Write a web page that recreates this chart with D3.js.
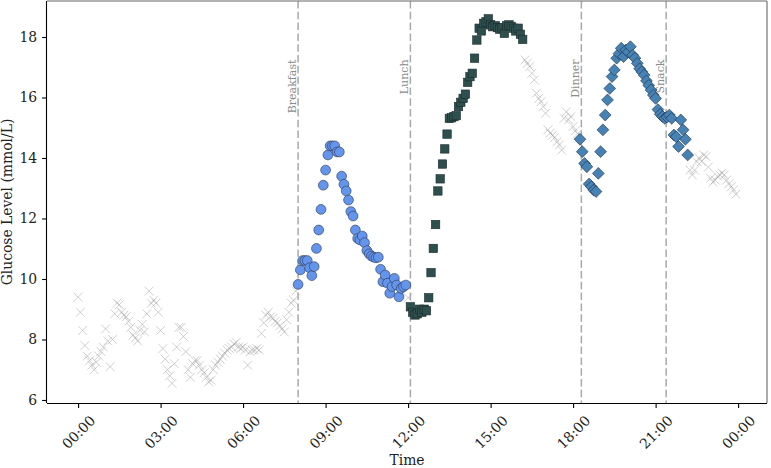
<!DOCTYPE html>
<html><head><meta charset="utf-8">
<script src="https://cdn.jsdelivr.net/npm/d3@7"></script>
<style>
body{margin:0;background:#fff}
svg{display:block}
text{font-family:"DejaVu Serif",serif}
</style>
</head><body>
<svg id="chart" width="771" height="468"></svg>
<script>
// ---------- data ----------
const tickHours = [0, 3, 6, 9, 12, 15, 18, 21, 24];
const tickLabels = ["00:00", "03:00", "06:00", "09:00", "12:00", "15:00", "18:00", "21:00", "00:00"];
const yTickValues = [6, 8, 10, 12, 14, 16, 18];

const mealNames = ["Breakfast", "Lunch", "Dinner", "Snack"];
const mealTimes = ["08:00", "12:05", "18:18", "21:23"];

const readingIntervalMin = 5;

// between-meal readings (grey crosses)
const overnightStart = "00:00";
const overnight = [
  9.4, 8.9, 8.3, 7.8, 7.45, 7.3, 7.15, 7.0, 7.25, 7.45, 7.6, 7.75,
  8.35, 7.95, 7.1, 8.0, 8.85, 9.2, 9.15, 8.9, 8.8, 8.75, 8.6, 8.4,
  8.15, 8.05, 7.95, 8.3, 8.5, 8.25, 8.85, 9.6, 9.2, 9.3, 9.2, 8.9,
  8.3, 7.7, 7.35, 7.0, 6.8, 6.55, 7.2, 7.75, 8.4, 8.4, 8.1, 7.6,
  7.0, 6.75, 7.2, 7.3, 7.3, 7.15, 7.0, 6.9, 6.75, 6.6, 6.65, 7.0,
  7.15, 7.25, 7.35, 7.45, 7.55, 7.65, 7.7, 7.75, 7.85, 7.9, 7.75, 7.7,
  7.75, 7.65, 7.15, 7.6, 7.65, 7.65, 7.7, 7.65, 8.2, 8.55, 8.8, 8.9,
  8.75, 8.7, 8.6, 8.55, 8.45, 8.35, 8.25, 8.65, 8.9, 9.2, 9.3, 9.6
];
const noonStart = "12:00";
const noon = [9.38];
const afternoonStart = "16:15";
const afternoon = [
  17.24, 17.13, 17.02, 16.8, 16.58, 16.14, 15.97, 15.86, 15.70, 15.48, 14.93, 14.82,
  14.75, 14.68, 14.54, 14.43, 14.26, 15.31, 15.53, 15.26, 15.37, 15.04, 14.9, 14.8
];
const lateStart = "22:15";
const late = [
  13.6, 13.44, 13.6, 13.88, 14.0, 13.88, 14.1, 14.05, 13.7, 13.33, 13.2,
  13.27, 13.4, 13.44, 13.5, 13.44, 13.27, 13.15, 13.05, 12.94, 12.8
];

// post-meal readings
const breakfastStart = "08:00";
const breakfast = [
  9.82, 10.30, 10.61, 10.61, 10.61, 10.37, 10.11, 10.41, 11.01, 11.62,
  12.30, 13.10, 13.60, 14.10, 14.40, 14.40, 14.40, 14.20, 14.20, 13.40,
  13.13, 12.91, 12.61, 12.23, 12.08, 11.62, 11.34, 11.29, 11.42, 11.20,
  10.94, 10.83, 10.76, 10.72, 10.70, 10.72, 10.32, 9.91, 10.13, 9.86,
  9.53, 9.75, 10.02, 9.80, 9.41, 9.69, 9.75, 9.80
];
const lunchStart = "12:05";
const lunch = [
  9.08, 8.9, 8.81, 8.85, 9.0, 8.9, 9.0, 8.95, 9.38, 10.21,
  11.01, 11.8, 12.91, 13.31, 13.8, 14.3, 14.79, 15.31, 15.33, 15.37,
  15.40, 15.70, 15.84, 15.97, 16.11, 16.5, 16.69, 16.8, 17.3, 17.9,
  18.29, 18.2, 18.45, 18.5, 18.6, 18.4, 18.34, 18.37, 18.31, 18.26,
  18.3, 18.12, 18.37, 18.4, 18.35, 18.29, 18.2, 18.29, 18.09, 17.92
];
const dinnerStart = "18:15";
const dinner = [
  14.62, 14.21, 13.82, 13.71, 13.14, 13.05, 12.94, 12.89, 13.49, 14.21,
  14.93, 15.42, 15.92, 16.30, 16.69, 16.91, 17.3, 17.45, 17.63, 17.35,
  17.57, 17.5, 17.68, 17.4, 17.3, 17.13, 16.95, 16.85, 16.74, 16.55,
  16.4, 16.25, 16.08, 15.97, 15.6, 15.45, 15.37, 15.31, 15.35, 15.42,
  15.31, 14.76, 14.7, 14.38, 15.26, 14.93, 14.62, 14.1
];

// ---------- helpers ----------
const toHours = s => { const [h, m] = s.split(":").map(Number); return h + m / 60; };
const series = (start, values) => values.map((v, i) => ({ t: toHours(start) + i * readingIntervalMin / 60, v }));

const greyPts = [].concat(series(overnightStart, overnight), series(noonStart, noon),
                          series(afternoonStart, afternoon), series(lateStart, late));
const bPts = series(breakfastStart, breakfast);
const lPts = series(lunchStart, lunch);
const dPts = series(dinnerStart, dinner);

// ---------- layout ----------
const svg = d3.select("#chart");
const L = 47, R = 767, T = 1, B = 403;
const x = d3.scaleLinear().domain([-1.13, 25.05]).range([L, R]);
const y = d3.scaleLinear().domain([5.9, 19.19]).range([B, T]);
const FS = 13.9;

// meal lines
const mg = svg.append("g");
mealTimes.forEach((mt, i) => {
  const xx = x(toHours(mt));
  mg.append("line").attr("x1", xx).attr("x2", xx).attr("y1", T).attr("y2", B)
    .attr("stroke", "#a9a9a9").attr("stroke-width", 1.5).attr("stroke-dasharray", "7.5,3.3");
  mg.append("text").attr("transform", `translate(${xx - 2},59.5) rotate(-90)`)
    .attr("text-anchor", "end").attr("font-size", 11).attr("fill", "#8c8c8c")
    .text(mealNames[i]);
});

// grey crosses
const cr = 4.4;
svg.append("g").selectAll("path").data(greyPts).join("path")
  .attr("d", d => `M${x(d.t) - cr},${y(d.v) - cr}L${x(d.t) + cr},${y(d.v) + cr}M${x(d.t) - cr},${y(d.v) + cr}L${x(d.t) + cr},${y(d.v) - cr}`)
  .attr("stroke", "#a0a0a0").attr("stroke-opacity", 0.5).attr("stroke-width", 1).attr("fill", "none");

// breakfast circles
svg.append("g").selectAll("circle").data(bPts).join("circle")
  .attr("cx", d => x(d.t)).attr("cy", d => y(d.v)).attr("r", 4.9)
  .attr("fill", "#6495ED").attr("stroke", "#2b3550").attr("stroke-width", 0.6);

// lunch squares
const sq = 8.4;
svg.append("g").selectAll("rect").data(lPts).join("rect")
  .attr("x", d => x(d.t) - sq / 2).attr("y", d => y(d.v) - sq / 2).attr("width", sq).attr("height", sq)
  .attr("fill", "#2F4F4F").attr("stroke", "#1a2a2a").attr("stroke-width", 0.6);

// dinner / snack diamonds
const dr = 5.9;
svg.append("g").selectAll("path").data(dPts).join("path")
  .attr("d", d => `M${x(d.t)},${y(d.v) - dr}L${x(d.t) + dr},${y(d.v)}L${x(d.t)},${y(d.v) + dr}L${x(d.t) - dr},${y(d.v)}Z`)
  .attr("fill", "#4682B4").attr("stroke", "#1c2f44").attr("stroke-width", 0.6);

// frame
svg.append("line").attr("x1", L).attr("x2", R).attr("y1", T).attr("y2", T).attr("stroke", "#666").attr("stroke-width", 1.1);
svg.append("line").attr("x1", R).attr("x2", R).attr("y1", T).attr("y2", B).attr("stroke", "#666").attr("stroke-width", 1.1);

// axes
const xAxis = d3.axisBottom(x).tickValues(tickHours).tickFormat((d, i) => tickLabels[i]).tickSize(4.9).tickSizeOuter(0);
const gx = svg.append("g").attr("transform", `translate(0,${B})`).call(xAxis);
gx.select(".domain").attr("stroke", "#000").attr("stroke-width", 1.1).attr("d", `M${L},0.5H${R}`);
gx.selectAll(".tick line").attr("stroke", "#000").attr("stroke-width", 1.1);
gx.selectAll(".tick text").attr("font-size", FS).attr("fill", "#222")
  .attr("font-family", "DejaVu Serif").attr("text-anchor", "middle").attr("dy", null).attr("y", 29)
  .attr("dominant-baseline", "central").attr("transform", "rotate(-45,0,29)");

const yAxis = d3.axisLeft(y).tickValues(yTickValues).tickFormat(d3.format("d")).tickSize(4.9).tickSizeOuter(0);
const gy = svg.append("g").attr("transform", `translate(${L},0)`).call(yAxis);
gy.select(".domain").attr("stroke", "#000").attr("stroke-width", 1.1).attr("d", `M-0.5,${T}V${B}`);
gy.selectAll(".tick line").attr("stroke", "#000").attr("stroke-width", 1.1);
gy.selectAll(".tick text").attr("font-size", FS).attr("fill", "#222").attr("font-family", "DejaVu Serif").attr("x", -9.8);

// labels
svg.append("text").attr("x", (L + R) / 2).attr("y", 465).attr("text-anchor", "middle")
  .attr("font-size", FS).attr("fill", "#222").text("Time");
svg.append("text").attr("transform", `translate(12,${(T + B) / 2}) rotate(-90)`).attr("text-anchor", "middle")
  .attr("font-size", FS).attr("fill", "#222").text("Glucose Level (mmol/L)");
</script>
</body></html>
